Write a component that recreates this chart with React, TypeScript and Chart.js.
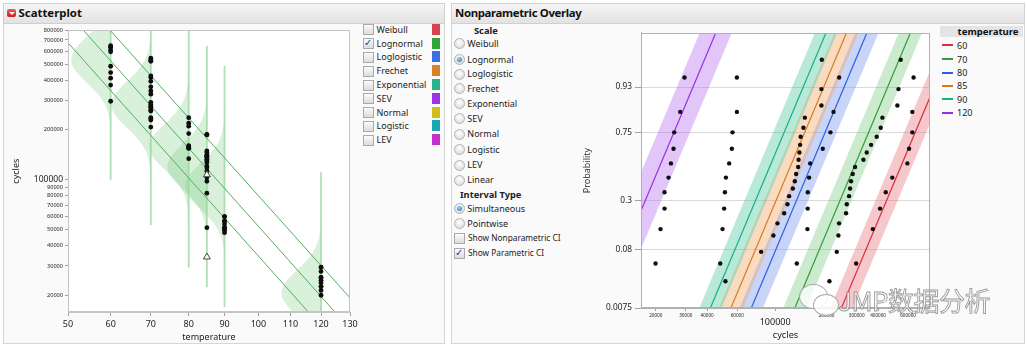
import React, { useEffect, useRef } from 'react';
import { Chart, registerables } from 'chart.js';

Chart.register(...registerables);

const FONT = '"Noto Sans", "DejaVu Sans", sans-serif';

// ---------------- data ----------------
const GROUP_TEMPS = [60, 70, 80, 85, 90, 120];
const CYCLES_60 = [298000, 373000, 411000, 444000, 485000, 594000, 608000, 635000, 635000, 646000];
const CYCLES_70 = [207800, 229400, 234600, 236700, 260100, 262500, 270800, 274500, 278200, 284500,
  293600, 328600, 343600, 364200, 393000, 414900, 424300, 519300, 527000, 543100];
const CYCLES_80 = [133900, 154500, 155000, 155300, 158000, 160300, 190000, 210600, 219600, 237000];
const CYCLES_85 = [51200, 82800, 97700, 103200, 112900, 118000, 120700, 126900, 130400, 132700,
  136300, 137200, 138700, 140000, 141000, 146400, 149200, 186600, 186600, 187600];
const CYCLES_90 = [47700, 49200, 50300, 50800, 51500, 53800, 55800, 56300, 59700, 59700];
const CYCLES_120 = [19950, 21340, 22520, 22520, 23770, 24550, 25420, 25660, 27820, 29480];
const PROB_10 = [0.05, 0.15, 0.25, 0.35, 0.45, 0.55, 0.65, 0.75, 0.85, 0.95];
const PROB_20 = [0.025, 0.075, 0.125, 0.175, 0.225, 0.275, 0.325, 0.375, 0.425, 0.475,
  0.525, 0.575, 0.625, 0.675, 0.725, 0.775, 0.825, 0.875, 0.925, 0.975];
const GROUP_CYCLES = [CYCLES_60, CYCLES_70, CYCLES_80, CYCLES_85, CYCLES_90, CYCLES_120];
const GROUP_PROBS = [PROB_10, PROB_20, PROB_10, PROB_20, PROB_10, PROB_10];

const CENSORED_TEMP = 85;
const CENSORED_85 = [107000, 34000];

// lognormal model per temperature (median cycles, sigma in log10 units)
const MODEL_MEDIAN = [532000, 284000, 158000, 120000, 91000, 20600];
const MODEL_SIGMA = 0.139;
const BAND_HALF = [0.065, 0.068, 0.068, 0.07, 0.065, 0.094];
const VLINE_HALF = 0.73; // decades
const DENSITY_WIDTH = 0.086; // in Arrhenius axis units
const FIT_Z_RANGE = [-2.8, 2.8];

// quantile lines of the scatterplot
const FIT_LINE_TEMPS = [50, 130];
const FIT_LINE_LOWER = [673000, 8250];
const FIT_LINE_MIDDLE = [1019000, 12480];
const FIT_LINE_UPPER = [1542000, 19230];

// ticks
const X_TICKS_LEFT = [50, 60, 70, 80, 90, 100, 110, 120, 130];
const Y_TICKS_LEFT = [20000, 30000, 40000, 50000, 60000, 70000, 80000, 90000, 100000,
  200000, 300000, 400000, 500000, 600000, 700000, 800000];
const X_TICKS_RIGHT = [20000, 30000, 40000, 60000, 100000, 200000, 300000, 400000, 600000];
const PROB_TICKS = [0.0075, 0.08, 0.3, 0.75, 0.93];
const PROB_TICK_LABELS = ['0.0075', '0.08', '0.3', '0.75', '0.93'];
const PROB_MIN = 0.0075;
const PROB_MAX = 0.9925;

const GROUP_COLORS = ['#d8303f', '#2f9f3a', '#2d5fe0', '#dd7a18', '#17b07f', '#9430e0'];
const BAND_COLORS = ['rgba(232,110,122,0.38)', 'rgba(95,190,100,0.32)', 'rgba(110,145,238,0.38)',
  'rgba(240,160,92,0.38)', 'rgba(60,195,150,0.36)', 'rgba(180,105,238,0.38)'];

const LEFT_LEGEND_ITEMS = ['Weibull', 'Lognormal', 'Loglogistic', 'Frechet', 'Exponential', 'SEV', 'Normal', 'Logistic', 'LEV'];
const LEFT_LEGEND_COLORS = ['#d6444e', '#31a63a', '#3a6fe2', '#d98128', '#27b38c', '#9a34e4', '#cdbf1c', '#1ba6b6', '#c62fcb'];
const LEFT_LEGEND_CHECKED = 'Lognormal';
const SCALE_OPTIONS = ['Weibull', 'Lognormal', 'Loglogistic', 'Frechet', 'Exponential', 'SEV', 'Normal', 'Logistic', 'LEV', 'Linear'];
const SCALE_SELECTED = 'Lognormal';
const INTERVAL_OPTIONS = ['Simultaneous', 'Pointwise'];
const INTERVAL_SELECTED = 'Simultaneous';
const CI_OPTIONS = ['Show Nonparametric CI', 'Show Parametric CI'];
const CI_CHECKED = [false, true];

// ---------------- helpers ----------------
// Arrhenius temperature axis: linear in -1000 / (T + 273.15)
function arr(t: number): number {
  return -1000 / (t + 273.15);
}

function probit(p: number): number {
  const a = [-3.969683028665376e+01, 2.209460984245205e+02, -2.759285104469687e+02, 1.383577518672690e+02, -3.066479806614716e+01, 2.506628277459239e+00];
  const b = [-5.447609879822406e+01, 1.615858368580409e+02, -1.556989798598866e+02, 6.680131188771972e+01, -1.328068155288572e+01];
  const c = [-7.784894002430293e-03, -3.223964580411365e-01, -2.400758277161838e+00, -2.549732539343734e+00, 4.374664141464968e+00, 2.938163982698783e+00];
  const d = [7.784695709041462e-03, 3.224671290700398e-01, 2.445134137142996e+00, 3.754408661907416e+00];
  const pl = 0.02425;
  let q: number, r: number;
  if (p < pl) {
    q = Math.sqrt(-2 * Math.log(p));
    return (((((c[0] * q + c[1]) * q + c[2]) * q + c[3]) * q + c[4]) * q + c[5]) / ((((d[0] * q + d[1]) * q + d[2]) * q + d[3]) * q + 1);
  }
  if (p <= 1 - pl) {
    q = p - 0.5; r = q * q;
    return (((((a[0] * r + a[1]) * r + a[2]) * r + a[3]) * r + a[4]) * r + a[5]) * q / (((((b[0] * r + b[1]) * r + b[2]) * r + b[3]) * r + b[4]) * r + 1);
  }
  q = Math.sqrt(-2 * Math.log(1 - p));
  return -(((((c[0] * q + c[1]) * q + c[2]) * q + c[3]) * q + c[4]) * q + c[5]) / ((((d[0] * q + d[1]) * q + d[2]) * q + d[3]) * q + 1);
}

const plotFrame = (color: string) => ({
  id: 'plotFrame',
  beforeDraw(chart: any) {
    const { ctx, chartArea: a } = chart;
    ctx.save();
    ctx.fillStyle = '#ffffff';
    ctx.fillRect(a.left, a.top, a.width, a.height);
    ctx.restore();
  },
  afterDraw(chart: any) {
    const { ctx, chartArea: a } = chart;
    ctx.save();
    ctx.strokeStyle = color;
    ctx.lineWidth = 1;
    ctx.strokeRect(Math.round(a.left) + 0.5, Math.round(a.top) + 0.5, Math.round(a.width) - 1, Math.round(a.height) - 1);
    ctx.restore();
  },
});

const densityPlugin = {
  id: 'densities',
  beforeDatasetsDraw(chart: any) {
    const { ctx, chartArea: a, scales } = chart;
    const xs = scales.x, ys = scales.y;
    ctx.save();
    ctx.beginPath();
    ctx.rect(a.left, a.top, a.width, a.height);
    ctx.clip();
    GROUP_TEMPS.forEach((t, g) => {
      const m = MODEL_MEDIAN[g];
      ctx.beginPath();
      const N = 80;
      for (let k = 0; k <= N; k++) {
        const z = -3.6 + (7.2 * k) / N;
        const px = xs.getPixelForValue(arr(t) - DENSITY_WIDTH * Math.exp(-z * z / 2));
        const py = ys.getPixelForValue(m * Math.pow(10, z * MODEL_SIGMA));
        if (k === 0) ctx.moveTo(px, py); else ctx.lineTo(px, py);
      }
      ctx.closePath();
      ctx.fillStyle = 'rgba(130,205,135,0.30)';
      ctx.fill();
    });
    GROUP_TEMPS.forEach((t, g) => {
      const m = MODEL_MEDIAN[g];
      const px = xs.getPixelForValue(arr(t));
      ctx.beginPath();
      ctx.moveTo(px, ys.getPixelForValue(m * Math.pow(10, VLINE_HALF)));
      ctx.lineTo(px, ys.getPixelForValue(m * Math.pow(10, -VLINE_HALF)));
      ctx.strokeStyle = 'rgba(150,214,158,0.75)';
      ctx.lineWidth = 1.8;
      ctx.stroke();
    });
    ctx.restore();
  },
};

const bandPlugin = {
  id: 'bands',
  beforeDatasetsDraw(chart: any) {
    const { ctx, chartArea: a, scales } = chart;
    const xs = scales.x, ys = scales.y;
    ctx.save();
    ctx.beginPath();
    ctx.rect(a.left, a.top, a.width, a.height);
    ctx.clip();
    GROUP_TEMPS.forEach((t, g) => {
      const m = MODEL_MEDIAN[g], b = BAND_HALF[g];
      const z0 = FIT_Z_RANGE[0], z1 = FIT_Z_RANGE[1];
      const pts = [
        [m * Math.pow(10, z0 * MODEL_SIGMA - b), z0],
        [m * Math.pow(10, z1 * MODEL_SIGMA - b), z1],
        [m * Math.pow(10, z1 * MODEL_SIGMA + b), z1],
        [m * Math.pow(10, z0 * MODEL_SIGMA + b), z0],
      ];
      ctx.beginPath();
      pts.forEach((p, i) => {
        const px = xs.getPixelForValue(p[0]);
        const py = ys.getPixelForValue(p[1]);
        if (i === 0) ctx.moveTo(px, py); else ctx.lineTo(px, py);
      });
      ctx.closePath();
      ctx.fillStyle = BAND_COLORS[g];
      ctx.fill();
    });
    ctx.restore();
  },
};

function makeLeftConfig(): any {
  const censored = {
    data: CENSORED_85.map((c) => ({ x: arr(CENSORED_TEMP), y: c })),
    showLine: false, pointStyle: 'triangle', pointRadius: 4,
    pointBackgroundColor: '#ffffff', pointBorderColor: '#444', pointBorderWidth: 1, order: 0,
  };
  const points = GROUP_TEMPS.map((t, g) => ({
    data: GROUP_CYCLES[g].map((c) => ({ x: arr(t), y: c })),
    showLine: false, pointRadius: 2.4, pointBackgroundColor: '#0e0e0e', pointBorderColor: '#0e0e0e',
    pointBorderWidth: 0, order: 1,
  }));
  const lines = [FIT_LINE_LOWER, FIT_LINE_MIDDLE, FIT_LINE_UPPER].map((vals) => ({
    data: FIT_LINE_TEMPS.map((t, i) => ({ x: arr(t), y: vals[i] })),
    showLine: true, borderColor: '#52ad60', borderWidth: 1, pointRadius: 0, order: 2, clip: 0,
  }));
  return {
    type: 'scatter',
    data: { datasets: [censored, ...points, ...lines] },
    options: {
      responsive: false, animation: false, events: [],
      layout: { padding: { left: 0, top: 4, right: 12, bottom: 0 } },
      plugins: { legend: { display: false }, tooltip: { enabled: false } },
      scales: {
        x: {
          type: 'linear', min: arr(X_TICKS_LEFT[0]), max: arr(X_TICKS_LEFT[X_TICKS_LEFT.length - 1]),
          afterBuildTicks: (s: any) => { s.ticks = X_TICKS_LEFT.map((t) => ({ value: arr(t) })); },
          afterFit: (s: any) => { s.height = 35; },
          ticks: { autoSkip: false, maxRotation: 0, padding: 3, color: '#222', font: { family: FONT, size: 9 }, callback: (v: any, i: number) => String(X_TICKS_LEFT[i]) },
          grid: { display: true, drawOnChartArea: false, drawTicks: true, tickLength: 4, color: '#a0a0a0' },
          border: { display: true, color: '#c4c4c4' },
          title: { display: true, text: 'temperature', color: '#222', font: { family: FONT, size: 9 }, padding: { top: 0, bottom: 3.9 } },
        },
        y: {
          type: 'logarithmic', min: 15800, max: 800000,
          afterBuildTicks: (s: any) => { s.ticks = Y_TICKS_LEFT.map((v) => ({ value: v })); },
          afterFit: (s: any) => { s.width = 68; },
          ticks: {
            autoSkip: false, padding: 2, color: '#222',
            font: (c: any) => (c.tick && c.tick.value === 100000 ? { family: FONT, size: 8.5 } : { family: FONT, size: 5.6 }),
            callback: (v: any) => String(v),
          },
          grid: { display: true, drawOnChartArea: false, drawTicks: true, tickLength: 3, color: '#a0a0a0' },
          border: { display: true, color: '#c4c4c4' },
          title: { display: true, text: 'cycles', color: '#222', font: { family: FONT, size: 9 }, padding: { top: 10.6, bottom: 0 } },
        },
      },
    },
    plugins: [plotFrame('#c4c4c4'), densityPlugin],
  };
}

function makeRightConfig(): any {
  const points = GROUP_TEMPS.map((t, g) => ({
    data: GROUP_CYCLES[g].map((c, k) => ({ x: c, y: probit(GROUP_PROBS[g][k]) })),
    showLine: false, pointRadius: 2.2, pointBackgroundColor: '#0e0e0e', pointBorderColor: '#0e0e0e',
    pointBorderWidth: 0, order: 0,
  }));
  const lines = GROUP_TEMPS.map((t, g) => ({
    data: FIT_Z_RANGE.map((z) => ({ x: MODEL_MEDIAN[g] * Math.pow(10, z * MODEL_SIGMA), y: z })),
    showLine: true, borderColor: GROUP_COLORS[g], borderWidth: 1.2, pointRadius: 0, order: 1, clip: 0,
  }));
  return {
    type: 'scatter',
    data: { datasets: [...points, ...lines] },
    options: {
      responsive: false, animation: false, events: [],
      layout: { padding: { left: 0, top: 6, right: 10, bottom: 0 } },
      plugins: { legend: { display: false }, tooltip: { enabled: false } },
      scales: {
        x: {
          type: 'logarithmic', min: 16400, max: 806000,
          afterBuildTicks: (s: any) => { s.ticks = X_TICKS_RIGHT.map((v) => ({ value: v })); },
          afterFit: (s: any) => { s.height = 39; },
          ticks: {
            autoSkip: false, maxRotation: 0, padding: 2, color: '#222',
            font: (c: any) => (c.tick && c.tick.value === 100000
              ? { family: FONT, size: 9, lineHeight: 2.2 }
              : { family: FONT, size: 4.6, lineHeight: 1.2 }),
            callback: (v: any) => String(v),
          },
          grid: { display: true, drawOnChartArea: false, drawTicks: true, tickLength: 3, color: '#a0a0a0' },
          border: { display: true, color: '#b0b0b0' },
          title: { display: true, text: 'cycles', color: '#222', font: { family: FONT, size: 9.2 }, padding: { top: 0, bottom: 6.5 } },
        },
        y: {
          type: 'linear', min: probit(PROB_MIN), max: probit(PROB_MAX),
          afterBuildTicks: (s: any) => { s.ticks = PROB_TICKS.map((p) => ({ value: probit(p) })); },
          afterFit: (s: any) => { s.width = 71; },
          ticks: {
            autoSkip: false, padding: 3, color: '#222', font: { family: FONT, size: 8.3 },
            callback: (v: any, i: number) => PROB_TICK_LABELS[i],
          },
          grid: { display: true, drawOnChartArea: true, drawTicks: true, tickLength: 6, color: '#dadada', tickColor: '#a0a0a0' },
          border: { display: true, color: '#b0b0b0' },
          title: { display: true, text: 'Probability', color: '#333', font: { family: FONT, size: 9 }, padding: { top: 11.6, bottom: 0 } },
        },
      },
    },
    plugins: [plotFrame('#b0b0b0'), bandPlugin],
  };
}

// ---------------- small UI pieces ----------------
function Label(props: { x: number; y: number; size: number; bold?: boolean; text: string; color?: string; spacing?: number }) {
  const lh = Math.round(props.size * 1.4);
  return (
    <div style={{
      position: 'absolute', left: props.x, top: props.y - lh / 2, fontSize: props.size, lineHeight: `${lh}px`,
      fontWeight: props.bold ? 700 : 400, color: props.color || '#222', whiteSpace: 'nowrap',
      letterSpacing: props.spacing ? `${props.spacing}px` : undefined,
    }}>{props.text}</div>
  );
}

function CheckBox(props: { x: number; y: number; checked: boolean }) {
  return (
    <div style={{
      position: 'absolute', left: props.x, top: props.y - 5, width: 9, height: 9,
      border: '1px solid #a9a9a9', background: 'linear-gradient(#fbfbfb, #dcdcdc)',
    }}>
      {props.checked && (
        <span style={{ position: 'absolute', left: 0, top: -3, fontSize: 10, lineHeight: '14px', color: '#1c3c96', fontWeight: 700, fontFamily: '"DejaVu Sans", sans-serif' }}>✓</span>
      )}
    </div>
  );
}

function Radio(props: { x: number; y: number; on: boolean }) {
  return (
    <div style={{
      position: 'absolute', left: props.x, top: props.y - 5, width: 9, height: 9, borderRadius: '50%',
      border: '1px solid #b3b3b3', background: 'radial-gradient(circle at 50% 35%, #ffffff, #d5d5d5)',
    }}>
      {props.on && (
        <div style={{ position: 'absolute', left: 2, top: 2, width: 5, height: 5, borderRadius: '50%', background: 'radial-gradient(circle at 40% 35%, #8fd8ff, #1a70b8)' }} />
      )}
    </div>
  );
}

export default function App() {
  const leftRef = useRef<HTMLCanvasElement>(null);
  const rightRef = useRef<HTMLCanvasElement>(null);

  useEffect(() => {
    const c1 = new Chart(leftRef.current as HTMLCanvasElement, makeLeftConfig());
    const c2 = new Chart(rightRef.current as HTMLCanvasElement, makeRightConfig());
    return () => { c1.destroy(); c2.destroy(); };
  }, []);

  const legendRowY = (i: number) => 29.3 + i * 13.8;
  const scaleRowY = [43.3, 59, 73.7, 88, 103, 118, 133.7, 149.3, 164.7, 179.7];
  const intervalRowY = [208, 223.3];
  const ciRowY = [238.3, 253.3];
  const tempRowY = [45, 59, 72.5, 85.5, 99, 112.5];

  return (
    <div style={{ position: 'relative', width: 1027, height: 347, overflow: 'hidden', background: '#ffffff', fontFamily: FONT }}>
      <style>{'body{margin:0;}'}</style>

      {/* left panel */}
      <div style={{ position: 'absolute', left: 3, top: 3, width: 440, height: 339, background: '#fafafa', border: '1px solid #d6d6d6' }} />
      <div style={{ position: 'absolute', left: 3, top: 3, width: 440, height: 19, background: 'linear-gradient(#f6f6f6, #e2e2e2)', border: '1px solid #d0d0d0' }} />
      <div style={{ position: 'absolute', left: 7, top: 9, width: 9, height: 8, borderRadius: 2, background: 'linear-gradient(#f05a5a, #c81e1e)' }}>
        <div style={{ position: 'absolute', left: 1.5, top: 2.5, width: 0, height: 0, borderLeft: '3px solid transparent', borderRight: '3px solid transparent', borderTop: '3.5px solid #fff' }} />
      </div>
      <Label x={18.5} y={12.6} size={11.4} bold text="Scatterplot" color="#111" />

      {/* right panel */}
      <div style={{ position: 'absolute', left: 451, top: 3, width: 572, height: 339, background: '#fafafa', border: '1px solid #d6d6d6' }} />
      <div style={{ position: 'absolute', left: 451, top: 3, width: 572, height: 19, background: 'linear-gradient(#f6f6f6, #e2e2e2)', border: '1px solid #d0d0d0' }} />
      <Label x={455} y={12.6} size={11.4} bold text="Nonparametric Overlay" color="#111" spacing={-0.35} />

      <canvas ref={leftRef} width={362} height={322} style={{ position: 'absolute', left: 0, top: 25, width: 362, height: 322 }} />
      <canvas ref={rightRef} width={370} height={322} style={{ position: 'absolute', left: 570, top: 25, width: 370, height: 322 }} />

      {/* left legend */}
      {LEFT_LEGEND_ITEMS.map((name, i) => (
        <React.Fragment key={name}>
          <CheckBox x={363} y={legendRowY(i)} checked={name === LEFT_LEGEND_CHECKED} />
          <Label x={376.5} y={legendRowY(i)} size={9} text={name} />
          <div style={{ position: 'absolute', left: 432, top: legendRowY(i) - 5.5, width: 8, height: 11, background: LEFT_LEGEND_COLORS[i] }} />
        </React.Fragment>
      ))}

      {/* right controls */}
      <Label x={474} y={30} size={9.3} bold text="Scale" />
      {SCALE_OPTIONS.map((name, i) => (
        <React.Fragment key={name}>
          <Radio x={454} y={scaleRowY[i]} on={name === SCALE_SELECTED} />
          <Label x={467.3} y={scaleRowY[i]} size={9} text={name} />
        </React.Fragment>
      ))}
      <Label x={460} y={194} size={9.3} bold text="Interval Type" />
      {INTERVAL_OPTIONS.map((name, i) => (
        <React.Fragment key={name}>
          <Radio x={454} y={intervalRowY[i]} on={name === INTERVAL_SELECTED} />
          <Label x={467.3} y={intervalRowY[i]} size={9} text={name} />
        </React.Fragment>
      ))}
      {CI_OPTIONS.map((name, i) => (
        <React.Fragment key={name}>
          <CheckBox x={454} y={ciRowY[i]} checked={CI_CHECKED[i]} />
          <Label x={468} y={ciRowY[i]} size={8.3} text={name} />
        </React.Fragment>
      ))}

      {/* right legend */}
      <div style={{ position: 'absolute', left: 940, top: 26, width: 83, height: 11, background: '#e4e4e4' }} />
      <Label x={957.5} y={31.5} size={9.6} bold text="temperature" color="#111" />
      {GROUP_TEMPS.map((t, i) => (
        <React.Fragment key={t}>
          <div style={{ position: 'absolute', left: 942, top: tempRowY[i] - 1, width: 11, height: 2, background: GROUP_COLORS[i] }} />
          <Label x={957} y={tempRowY[i]} size={9} text={String(t)} />
        </React.Fragment>
      ))}

      {/* watermark */}
      <div style={{ position: 'absolute', left: 799, top: 284, width: 27, height: 23, borderRadius: '50%', background: 'rgba(255,255,255,0.75)', border: '1.5px solid rgba(150,150,150,0.8)' }} />
      <div style={{ position: 'absolute', left: 813, top: 294, width: 24, height: 20, borderRadius: '50%', background: 'rgba(255,255,255,0.85)', border: '1.5px solid rgba(150,150,150,0.8)' }} />
      <div style={{
        position: 'absolute', left: 838, top: 284, fontSize: 26, lineHeight: '32px', whiteSpace: 'nowrap',
        fontFamily: '"Noto Sans CJK SC", "Noto Sans", sans-serif', color: 'rgba(255,255,255,0.7)',
        WebkitTextStroke: '0.9px rgba(130,130,130,0.8)', letterSpacing: '-0.5px',
      }}>JMP数据分析</div>
    </div>
  );
}
